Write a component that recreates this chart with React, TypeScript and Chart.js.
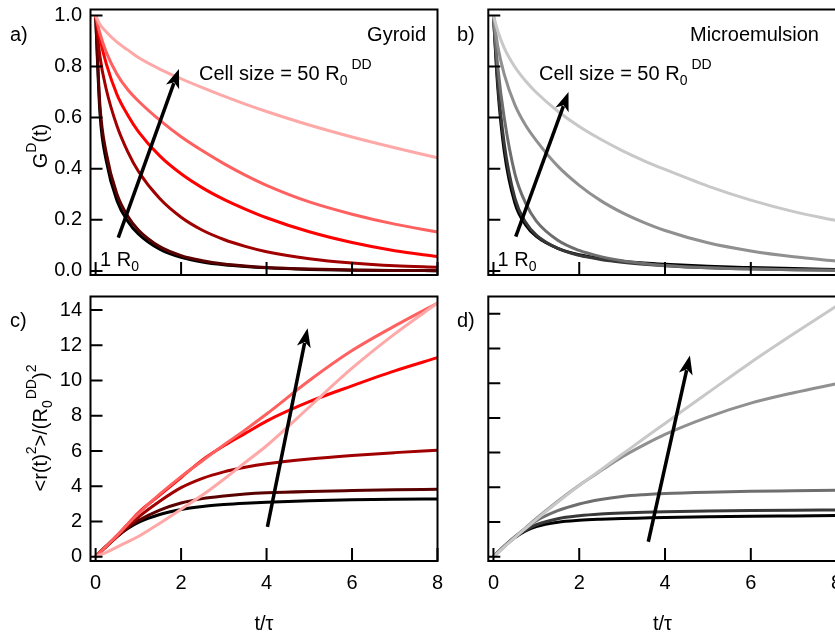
import React, { useEffect, useRef } from 'react';
import { Chart, registerables } from 'chart.js';

Chart.register(...registerables);

// ---------- data ----------
const T = [0, 0.1, 0.25, 0.5, 0.75, 1, 1.5, 2, 2.5, 3, 3.5, 4, 5, 6, 7, 8];

// Gyroid, G^D(t): smallest cell (1 R0, black) -> largest (50 R0, pink)
const gyrG_c1 = [1.0, 0.62, 0.43, 0.275, 0.195, 0.145, 0.085, 0.053, 0.035, 0.024, 0.017, 0.012, 0.006, 0.003, 0.0017, 0.001];
const gyrG_c2 = [1.0, 0.65, 0.46, 0.3, 0.215, 0.16, 0.095, 0.06, 0.04, 0.027, 0.019, 0.013, 0.007, 0.004, 0.002, 0.001];
const gyrG_c3 = [1.0, 0.84, 0.71, 0.567, 0.467, 0.39, 0.283, 0.21, 0.159, 0.123, 0.096, 0.075, 0.048, 0.031, 0.02, 0.014];
const gyrG_c4 = [1.0, 0.91, 0.81, 0.69, 0.61, 0.545, 0.45, 0.38, 0.325, 0.28, 0.242, 0.208, 0.153, 0.111, 0.079, 0.056];
const gyrG_c5 = [1.0, 0.93, 0.855, 0.77, 0.71, 0.665, 0.59, 0.525, 0.47, 0.42, 0.375, 0.335, 0.27, 0.222, 0.183, 0.152];
const gyrG_c6 = [1.0, 0.965, 0.935, 0.895, 0.865, 0.835, 0.79, 0.752, 0.717, 0.684, 0.653, 0.624, 0.571, 0.524, 0.482, 0.443];

// Gyroid, <r(t)^2>/(R0^DD)^2
const gyrR_c1 = [0, 0.25, 0.6, 1.15, 1.6, 1.95, 2.4, 2.68, 2.85, 2.96, 3.04, 3.1, 3.18, 3.23, 3.26, 3.28];
const gyrR_c2 = [0, 0.25, 0.6, 1.15, 1.65, 2.05, 2.65, 3.05, 3.3, 3.45, 3.56, 3.63, 3.71, 3.76, 3.8, 3.83];
const gyrR_c3 = [0, 0.24, 0.58, 1.15, 1.72, 2.25, 3.15, 3.92, 4.45, 4.82, 5.08, 5.28, 5.55, 5.75, 5.91, 6.05];
const gyrR_c4 = [0, 0.24, 0.6, 1.2, 1.85, 2.5, 3.5, 4.5, 5.5, 6.3, 7.0, 7.7, 8.8, 9.7, 10.55, 11.3];
const gyrR_c5 = [0, 0.24, 0.6, 1.2, 1.85, 2.45, 3.55, 4.55, 5.45, 6.35, 7.2, 8.1, 10.0, 11.7, 13.1, 14.4];
const gyrR_c6 = [0, 0.1, 0.25, 0.55, 0.85, 1.15, 1.9, 2.7, 3.5, 4.4, 5.35, 6.3, 8.5, 10.7, 12.65, 14.4];

// Microemulsion, G^D(t)
const micG_c1 = [1.0, 0.72, 0.47, 0.265, 0.18, 0.135, 0.088, 0.063, 0.048, 0.038, 0.031, 0.026, 0.018, 0.013, 0.009, 0.006];
const micG_c2 = [1.0, 0.74, 0.5, 0.285, 0.19, 0.14, 0.088, 0.061, 0.045, 0.034, 0.026, 0.02, 0.012, 0.008, 0.005, 0.003];
const micG_c3 = [1.0, 0.8, 0.6, 0.38, 0.265, 0.195, 0.12, 0.08, 0.056, 0.04, 0.029, 0.021, 0.012, 0.007, 0.005, 0.003];
const micG_c4 = [1.0, 0.88, 0.77, 0.65, 0.57, 0.51, 0.41, 0.335, 0.275, 0.228, 0.19, 0.158, 0.11, 0.078, 0.055, 0.038];
const micG_c5 = [1.0, 0.94, 0.873, 0.798, 0.743, 0.698, 0.625, 0.565, 0.515, 0.471, 0.432, 0.397, 0.332, 0.277, 0.232, 0.197];

// Microemulsion, <r(t)^2>/(R0^DD)^2
const micR_c1 = [0, 0.25, 0.6, 1.1, 1.48, 1.74, 1.99, 2.1, 2.16, 2.2, 2.23, 2.26, 2.3, 2.33, 2.35, 2.37];
const micR_c2 = [0, 0.25, 0.6, 1.12, 1.52, 1.84, 2.19, 2.36, 2.46, 2.52, 2.56, 2.59, 2.63, 2.66, 2.68, 2.69];
const micR_c3 = [0, 0.25, 0.6, 1.15, 1.63, 2.07, 2.65, 3.04, 3.3, 3.47, 3.57, 3.64, 3.72, 3.77, 3.8, 3.83];
const micR_c4 = [0, 0.23, 0.57, 1.12, 1.66, 2.2, 3.2, 4.12, 4.95, 5.75, 6.43, 7.05, 8.05, 8.85, 9.45, 9.97];
const micR_c5 = [0, 0.22, 0.55, 1.1, 1.63, 2.15, 3.15, 4.1, 5.0, 5.9, 6.8, 7.68, 9.45, 11.2, 12.85, 14.45];

const X_TICKS = [0, 2, 4, 6, 8];
const G_TICKS = [0, 0.2, 0.4, 0.6, 0.8, 1.0];
const R_TICKS = [0, 2, 4, 6, 8, 10, 12, 14];

const RED_COLORS = ['#000000', '#5a0000', '#a00000', '#ff0000', '#ff6060', '#ffa8a8'];
const GRAY_COLORS = ['#000000', '#383838', '#6e6e6e', '#909090', '#c8c8c8'];

// annotation arrows (data coordinates: tail, head)
const ARROW_A = [[0.53, 0.13], [1.95, 0.79]];
const ARROW_B = [[0.52, 0.134], [1.75, 0.7]];
const ARROW_C = [[4.02, 1.7], [4.96, 12.97]];
const ARROW_D = [[3.61, 0.86], [4.58, 11.6]];

const FONT = "'Liberation Sans', Arial, Helvetica, sans-serif";

type PanelProps = {
  left: number; top: number; width: number; height: number;
  series: number[][]; colors: string[];
  yMin: number; yMax: number; yTicks: number[]; yDec: number;
  showY: boolean; showX: boolean;
  yWidth: number; xHeight: number; padTop: number; padRight: number;
  arrow: number[][];
};

function zeroPad(s: any) {
  s.paddingLeft = 0; s.paddingRight = 0; s.paddingTop = 0; s.paddingBottom = 0;
}

function Panel(p: PanelProps) {
  const ref = useRef<HTMLCanvasElement>(null);
  useEffect(() => {
    const framePlugin = {
      id: 'frame',
      afterDatasetsDraw(chart: any) {
        const { ctx, chartArea: a, scales } = chart;
        const sx = scales.x, sy = scales.y;
        ctx.save();
        ctx.strokeStyle = '#000';
        ctx.fillStyle = '#000';
        ctx.lineWidth = 2;
        ctx.beginPath();
        sy.ticks.forEach((t: any) => {
          const py = sy.getPixelForValue(t.value);
          ctx.moveTo(a.left, py); ctx.lineTo(a.left + 12, py);
        });
        sx.ticks.forEach((t: any) => {
          const px = sx.getPixelForValue(t.value);
          ctx.moveTo(px, a.bottom); ctx.lineTo(px, a.bottom - 13);
        });
        ctx.stroke();
        ctx.strokeRect(a.left, a.top, a.right - a.left, a.bottom - a.top);
        // arrow
        const x0 = sx.getPixelForValue(p.arrow[0][0]);
        const y0 = sy.getPixelForValue(p.arrow[0][1]);
        const x1 = sx.getPixelForValue(p.arrow[1][0]);
        const y1 = sy.getPixelForValue(p.arrow[1][1]);
        const ang = Math.atan2(y1 - y0, x1 - x0);
        const hl = 19, hw = 7;
        const c = Math.cos(ang), s = Math.sin(ang);
        const bx = x1 - hl * c, by = y1 - hl * s;
        ctx.lineWidth = 3.5;
        ctx.beginPath();
        ctx.moveTo(x0, y0);
        ctx.lineTo(bx + 4 * c, by + 4 * s);
        ctx.stroke();
        ctx.beginPath();
        ctx.moveTo(x1, y1);
        ctx.lineTo(bx + hw * s, by - hw * c);
        ctx.lineTo(bx + 5 * c, by + 5 * s);
        ctx.lineTo(bx - hw * s, by + hw * c);
        ctx.closePath();
        ctx.fill();
        ctx.restore();
      },
    };

    const datasets = p.series
      .map((ser, i) => ({
        label: 'cell ' + (i + 1),
        data: T.map((t, k) => ({ x: t, y: ser[k] })),
        borderColor: p.colors[i],
        backgroundColor: p.colors[i],
        borderWidth: 3,
        pointRadius: 0,
        cubicInterpolationMode: 'monotone' as const,
        fill: false,
      }))
      .reverse();

    const tickFont = { family: FONT, size: 20 };
    const chart = new Chart(ref.current!, {
      type: 'line',
      data: { datasets },
      plugins: [framePlugin],
      options: {
        animation: false,
        responsive: false,
        devicePixelRatio: 1,
        layout: { padding: { top: p.padTop, right: p.padRight, left: 0, bottom: 0 } },
        plugins: { legend: { display: false }, tooltip: { enabled: false } },
        scales: {
          x: {
            type: 'linear',
            min: -0.12,
            max: 8,
            bounds: 'data',
            afterBuildTicks: (s: any) => { s.ticks = X_TICKS.map((v) => ({ value: v })); },
            afterFit: (s: any) => { s.height = p.xHeight; zeroPad(s); },
            grid: { display: false, drawTicks: false },
            border: { display: false },
            ticks: {
              display: p.showX,
              autoSkip: false,
              maxRotation: 0,
              minRotation: 0,
              padding: 10,
              color: '#000',
              font: tickFont,
              callback: (v: any) => String(v),
            },
            title: {
              display: p.showX,
              text: 't/τ',
              color: '#000',
              font: tickFont,
              padding: { top: 0, bottom: 1 },
            },
          },
          y: {
            type: 'linear',
            min: p.yMin,
            max: p.yMax,
            bounds: 'data',
            afterBuildTicks: (s: any) => { s.ticks = p.yTicks.map((v) => ({ value: v })); },
            afterFit: (s: any) => { s.width = p.yWidth; zeroPad(s); },
            grid: { display: false, drawTicks: false },
            border: { display: false },
            ticks: {
              display: p.showY,
              autoSkip: false,
              padding: 8.5,
              color: '#000',
              font: tickFont,
              callback: (v: any) => Number(v).toFixed(p.yDec),
            },
          },
        },
      } as any,
    });
    return () => chart.destroy();
  }, []);
  return (
    <div style={{ position: 'absolute', left: p.left, top: p.top, width: p.width, height: p.height }}>
      <canvas ref={ref} width={p.width} height={p.height} style={{ display: 'block' }} />
    </div>
  );
}

const txt: React.CSSProperties = {
  position: 'absolute',
  fontFamily: FONT,
  fontSize: 20,
  lineHeight: 1,
  color: '#000',
  whiteSpace: 'nowrap',
};
const subS: React.CSSProperties = { fontSize: 14, position: 'relative', top: 5 };
const supS: React.CSSProperties = { fontSize: 14, position: 'relative', top: -11 };

function CellLabel({ left, top }: { left: number; top: number }) {
  return (
    <div style={{ ...txt, left, top }}>
      Cell size = 50 R<span style={subS}>0</span>
      <span style={{ ...supS, marginLeft: 4 }}>DD</span>
    </div>
  );
}

function OneR({ left, top }: { left: number; top: number }) {
  return (
    <div style={{ ...txt, left, top }}>
      1 R<span style={subS}>0</span>
    </div>
  );
}

function RotLabel({ cx, cy, children }: { cx: number; cy: number; children: React.ReactNode }) {
  return (
    <div
      style={{
        ...txt,
        left: cx,
        top: cy,
        transform: 'translate(-50%, -50%) rotate(-90deg)',
      }}
    >
      {children}
    </div>
  );
}

export default function App() {
  return (
    <div
      style={{
        position: 'absolute',
        left: 0,
        top: 0,
        width: 835,
        height: 637,
        overflow: 'hidden',
        background: '#fff',
      }}
    >
      <Panel
        left={0} top={0} width={445} height={285}
        series={[gyrG_c1, gyrG_c2, gyrG_c3, gyrG_c4, gyrG_c5, gyrG_c6]} colors={RED_COLORS}
        yMin={-0.016} yMax={1.023} yTicks={G_TICKS} yDec={1}
        showY={true} showX={false}
        yWidth={90.5} xHeight={10} padTop={9.5} padRight={7.5}
        arrow={ARROW_A}
      />
      <Panel
        left={440} top={0} width={410} height={285}
        series={[micG_c1, micG_c2, micG_c3, micG_c4, micG_c5]} colors={GRAY_COLORS}
        yMin={-0.016} yMax={1.023} yTicks={G_TICKS} yDec={1}
        showY={false} showX={false}
        yWidth={48.3} xHeight={10} padTop={9.5} padRight={13.4}
        arrow={ARROW_B}
      />
      <Panel
        left={0} top={285} width={445} height={352}
        series={[gyrR_c1, gyrR_c2, gyrR_c3, gyrR_c4, gyrR_c5, gyrR_c6]} colors={RED_COLORS}
        yMin={-0.24} yMax={14.77} yTicks={R_TICKS} yDec={0}
        showY={true} showX={true}
        yWidth={90.5} xHeight={76} padTop={11.5} padRight={7.5}
        arrow={ARROW_C}
      />
      <Panel
        left={440} top={285} width={410} height={352}
        series={[micR_c1, micR_c2, micR_c3, micR_c4, micR_c5]} colors={GRAY_COLORS}
        yMin={-0.25} yMax={15.0} yTicks={R_TICKS} yDec={0}
        showY={false} showX={true}
        yWidth={48.3} xHeight={76} padTop={11.5} padRight={13.4}
        arrow={ARROW_D}
      />

      <div style={{ ...txt, left: 10, top: 24 }}>a)</div>
      <div style={{ ...txt, left: 457, top: 24 }}>b)</div>
      <div style={{ ...txt, left: 10, top: 310 }}>c)</div>
      <div style={{ ...txt, left: 457, top: 310 }}>d)</div>
      <div style={{ ...txt, right: 409, top: 24 }}>Gyroid</div>
      <div style={{ ...txt, left: 690, top: 24 }}>Microemulsion</div>
      <CellLabel left={199} top={63} />
      <CellLabel left={539} top={63} />
      <OneR left={100} top={249} />
      <OneR left={497.5} top={249} />

      <RotLabel cx={40} cy={146}>
        G<span style={supS}>D</span>(t)
      </RotLabel>
      <RotLabel cx={40} cy={428}>
        &lt;r(t)<span style={supS}>2</span>&gt;/(R<span style={subS}>0</span>
        <span style={{ ...supS, marginLeft: 1 }}>DD</span>)<span style={supS}>2</span>
      </RotLabel>
    </div>
  );
}
